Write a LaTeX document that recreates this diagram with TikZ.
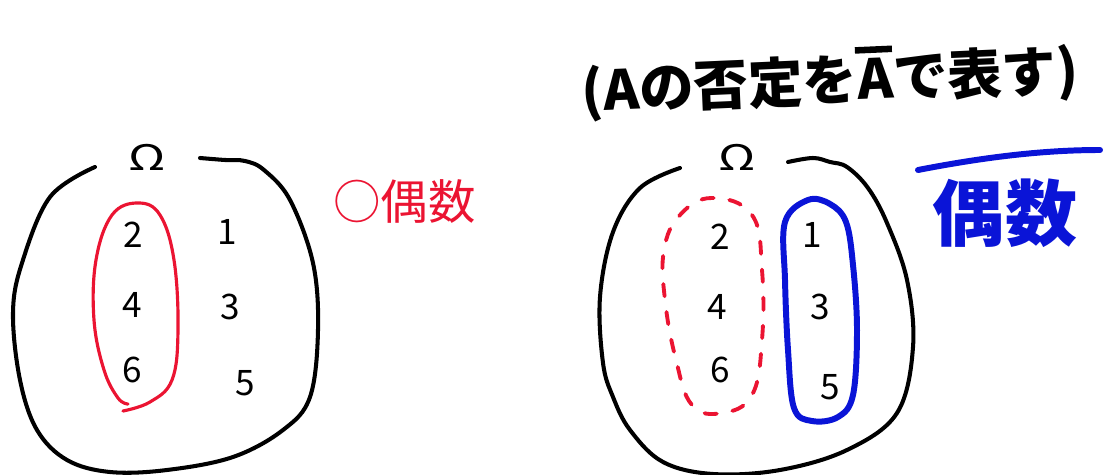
\documentclass[tikz,border=0pt]{standalone}
\usepackage{fontspec}
\setmainfont{Noto Sans CJK JP}
\newfontfamily\jp{Noto Sans CJK JP}
\definecolor{penred}{RGB}{235,20,50}
\definecolor{penblue}{RGB}{10,20,215}
\newcommand{\barA}{\makebox[0pt][l]{\hspace{-0.02em}\raisebox{0.84em}{\rule{0.68em}{0.12em}}}A}
\begin{document}
\begin{tikzpicture}[x=0.02cm,y=-0.02cm,
  blob/.style={draw=black,line width=2.3pt,line cap=round,line join=round},
  redring/.style={draw=penred,line width=1.8pt,line cap=round},
  reddash/.style={draw=penred,line width=2.2pt,line cap=round,dash pattern=on 7pt off 9pt},
  bluering/.style={draw=penblue,line width=3.4pt,line cap=round},
  num/.style={font=\jp\fontsize{20pt}{20pt}\selectfont,inner sep=0pt},
  omega/.style={font=\jp\fontsize{20pt}{20pt}\selectfont,inner sep=0pt,xscale=1.4},
]
\useasboundingbox (0,0) rectangle (1118,475);

% ---------- left universe ----------
\draw[blob] plot[smooth,tension=0.6] coordinates {(95,167) (50,197) (22,263) (13,313) (20,380) (37,430) (67,460) (110,472) (167,470) (233,457) (283,430) (310,397) (318,330) (313,263) (290,200) (264,170) (245,161) (225,160) (200,158)};
\node[omega] (omL) at (147,157) {Ω};
\draw[redring] plot[smooth,tension=0.65] coordinates {(123,411) (150,402) (172,380) (178,330) (174,260) (160,215) (138,203) (112,215) (96,260) (94,320) (104,370) (118,398) (128,404)};
\node[num] (l2) at (133,235) {2};
\node[num] (l4) at (132,305) {4};
\node[num] (l6) at (132,370) {6};
\node[num] (l1) at (227,232) {1};
\node[num] (l3) at (230,307) {3};
\node[num] (l5) at (245,383) {5};
\node[text=penred,font=\jp\fontsize{27pt}{27pt}\selectfont,inner sep=0pt,anchor=west] (evenL) at (333,202) {○偶数};

% ---------- title ----------
\node[font=\jp\bfseries\fontsize{31pt}{31pt}\selectfont,inner sep=0pt,rotate=2.5] (title) at (830,80) {(Aの否定を\barA で表す)};

% ---------- right universe ----------
\draw[blob] plot[smooth,tension=0.6] coordinates {(680,168) (640,188) (613,232) (600,297) (603,363) (613,397) (630,430) (663,462) (713,474) (780,470) (847,450) (897,413) (913,347) (907,280) (887,223) (868,188) (847,167) (830,162) (813,158) (788,162)};
\node[omega] (omR) at (737,157) {Ω};
\draw[reddash] plot[smooth cycle,tension=0.7] coordinates {(712,198) (752,215) (762,270) (762,340) (752,395) (722,413) (692,405) (676,360) (665,300) (664,250) (680,215)};
\draw[bluering] plot[smooth cycle,tension=0.6] coordinates {(808,200) (830,204) (846,222) (853,265) (857,330) (853,395) (838,417) (812,421) (794,408) (788,350) (785,280) (785,222)};
\node[num] (r2) at (720,237) {2};
\node[num] (r4) at (717,307) {4};
\node[num] (r6) at (720,370) {6};
\node[num] (r1) at (812,235) {1};
\node[num] (r3) at (820,307) {3};
\node[num] (r5) at (830,387) {5};
\node[text=penblue,font=\jp\bfseries\fontsize{41pt}{41pt}\selectfont,inner sep=0pt] (evenR) at (1005,213) {偶数};
\coordinate (barA) at (918,170);
\coordinate (barB) at (1100,150);
\draw[penblue,line width=3.4pt,line cap=round] (barA) .. controls (980,158) and (1040,150) .. (barB);
\end{tikzpicture}
\end{document}
